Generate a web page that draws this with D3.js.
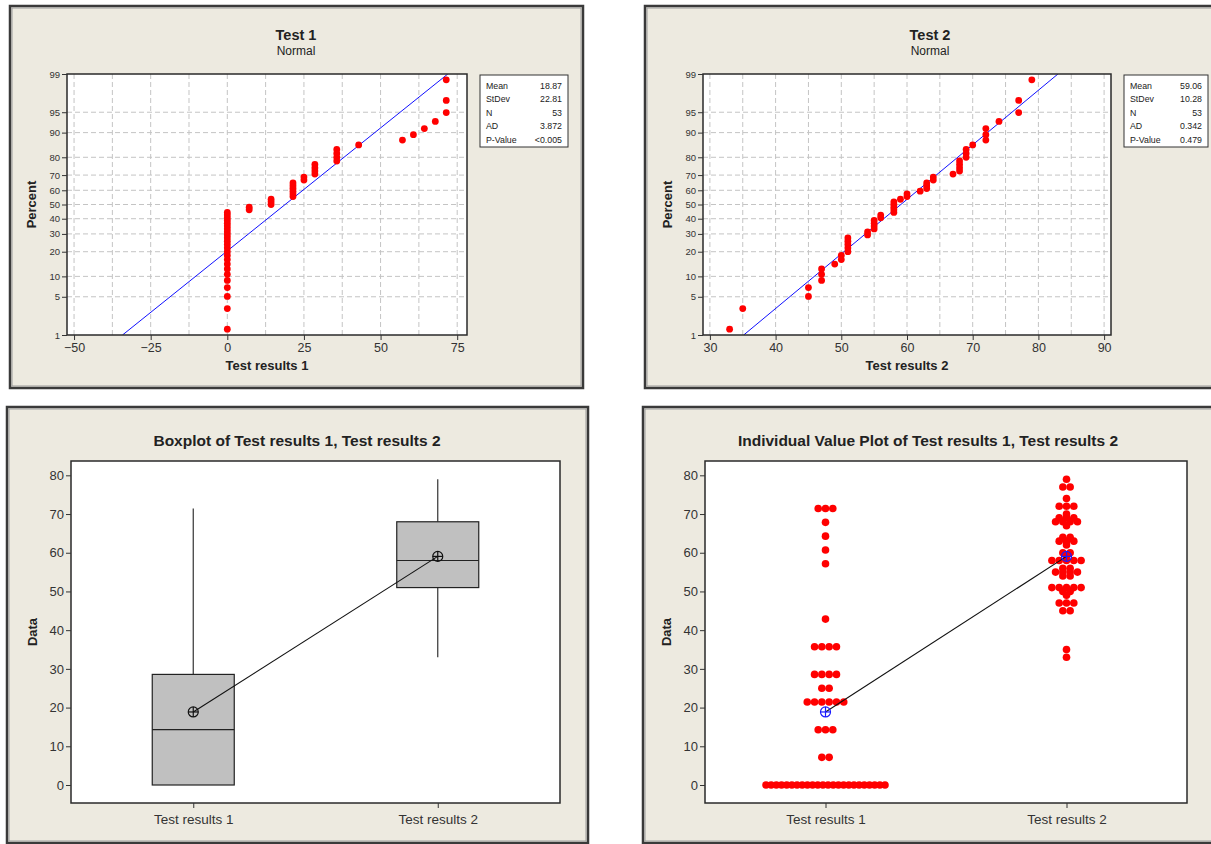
<!DOCTYPE html>
<html><head><meta charset="utf-8">
<script src="https://cdn.jsdelivr.net/npm/d3@7"></script>
<style>
body{margin:0;background:#fff;}
svg{display:block;}
text{font-family:"Liberation Sans",Arial,sans-serif;}
</style>
</head><body>
<svg id="c" width="1211" height="844"></svg>
<script>
// ---------------- DATA ----------------
const categories = ["Test results 1", "Test results 2"];
const test1 = [0,0,0,0,0,0,0,0,0,0,0,0,0,0,0,0,0,0,0,0,0,0,0,0,
  7.143,7.143, 14.286,14.286,14.286, 21.429,21.429,21.429,21.429,21.429,21.429,
  25,25, 28.571,28.571,28.571,28.571, 35.714,35.714,35.714,35.714,
  42.857, 57.143, 60.714, 64.286, 67.857, 71.429,71.429,71.429];
const test2 = [33, 35, 45,45, 47,47,47, 49, 50,50, 51,51,51,51,51, 54,54,
  55,55,55,55, 56,56, 58,58,58,58,58, 59, 60,60, 62, 63,63,63, 64,64, 67,
  68,68,68,68, 69,69,69, 70, 72,72,72, 74, 77,77, 79];
const statLabels = ["Mean", "StDev", "N", "AD", "P-Value"];
const stats1 = ["18.87", "22.81", "53", "3.872", "<0.005"];
const stats2 = ["59.06", "10.28", "53", "0.342", "0.479"];
const fitMean = [18.87, 59.06];
const fitSd = [22.81, 10.28];
const pctTicks = [1, 5, 10, 20, 30, 40, 50, 60, 70, 80, 90, 95, 99];
const xTicks1 = [-50, -25, 0, 25, 50, 75];
const xTicks2 = [30, 40, 50, 60, 70, 80, 90];
const dataTicks = [0, 10, 20, 30, 40, 50, 60, 70, 80];

// ---------------- HELPERS ----------------
function probit(p){
  const a=[-3.969683028665376e+01,2.209460984245205e+02,-2.759285104469687e+02,1.383577518672690e+02,-3.066479806614716e+01,2.506628277459239e+00];
  const b=[-5.447609879822406e+01,1.615858368580409e+02,-1.556989798598866e+02,6.680131188771972e+01,-1.328068155288572e+01];
  const c=[-7.784894002430293e-03,-3.223964580411365e-01,-2.400758277161838e+00,-2.549732539343734e+00,4.374664141464968e+00,2.938163982698783e+00];
  const d=[7.784695709041462e-03,3.224671290700398e-01,2.445134137142996e+00,3.754408661907416e+00];
  const pl=0.02425, ph=1-pl; let q,r;
  if(p<pl){q=Math.sqrt(-2*Math.log(p));return (((((c[0]*q+c[1])*q+c[2])*q+c[3])*q+c[4])*q+c[5])/((((d[0]*q+d[1])*q+d[2])*q+d[3])*q+1);}
  if(p>ph){q=Math.sqrt(-2*Math.log(1-p));return -(((((c[0]*q+c[1])*q+c[2])*q+c[3])*q+c[4])*q+c[5])/((((d[0]*q+d[1])*q+d[2])*q+d[3])*q+1);}
  q=p-0.5;r=q*q;return (((((a[0]*r+a[1])*r+a[2])*r+a[3])*r+a[4])*r+a[5])*q/(((((b[0]*r+b[1])*r+b[2])*r+b[3])*r+b[4])*r+1);
}
function mtbQuantile(sorted, p){
  const n = sorted.length, pos = p*(n+1);
  const lo = Math.floor(pos), fr = pos - lo;
  if (lo < 1) return sorted[0];
  if (lo >= n) return sorted[n-1];
  return sorted[lo-1] + fr*(sorted[lo]-sorted[lo-1]);
}

const svg = d3.select("#c");
const BG = "#EDEAE0", INK = "#222", TICK = "#333";

function frame(x, y, w, h){
  svg.append("rect").attr("x",x).attr("y",y).attr("width",w).attr("height",h)
    .attr("fill",BG).attr("stroke","#3a3a3a").attr("stroke-width",2.5);
  svg.append("rect").attr("x",x+2).attr("y",y+2).attr("width",w-4).attr("height",h-4)
    .attr("fill","none").attr("stroke","#9a9a9a").attr("stroke-width",1);
}
function styleAxis(g, fs){
  g.select(".domain").remove();
  g.selectAll(".tick line").attr("stroke",TICK).attr("stroke-width",1);
  g.selectAll(".tick text").attr("fill",TICK).style("font-size",fs+"px")
   .style("font-family",'"Liberation Sans",Arial,sans-serif');
}

// ---------------- PROBABILITY PLOTS ----------------
function probPanel(o){
  frame(o.fx, o.fy, o.fw, o.fh);
  svg.append("text").attr("x",o.tx).attr("y",40).attr("text-anchor","middle")
    .style("font-size","14.5px").style("font-weight","bold").attr("fill",INK).text(o.title);
  svg.append("text").attr("x",o.tx).attr("y",55).attr("text-anchor","middle")
    .style("font-size","12px").attr("fill",INK).text("Normal");

  const L=o.left, R=o.right, T=74, B=335;
  const x = d3.scaleLinear().domain(o.xdom).range([L,R]);
  const y = d3.scaleLinear().domain([probit(0.01), probit(0.99)]).range([B,T]);
  svg.append("rect").attr("x",L).attr("y",T).attr("width",R-L).attr("height",B-T).attr("fill","#fff");

  const clipId = "clip"+o.id;
  svg.append("clipPath").attr("id",clipId).append("rect")
    .attr("x",L).attr("y",T).attr("width",R-L).attr("height",B-T);

  const grid = svg.append("g").attr("stroke","#c4c4c4").attr("stroke-dasharray","5,3").attr("stroke-width",1);
  grid.selectAll("line.h").data(pctTicks.slice(1,-1)).join("line")
    .attr("x1",L).attr("x2",R).attr("y1",d=>y(probit(d/100))).attr("y2",d=>y(probit(d/100)));
  grid.selectAll("line.v").data(o.vgrid).join("line")
    .attr("y1",T).attr("y2",B).attr("x1",d=>x(d)).attr("x2",d=>x(d));

  // fitted line
  const zLo = probit(0.01), zHi = probit(0.99);
  svg.append("line").attr("clip-path",`url(#${clipId})`)
    .attr("x1",x(o.mean+o.sd*zLo)).attr("y1",y(zLo))
    .attr("x2",x(o.mean+o.sd*zHi)).attr("y2",y(zHi))
    .attr("stroke","#1010ff").attr("stroke-width",1);

  // points
  const s = o.data.slice().sort((a,b)=>a-b), n = s.length;
  svg.append("g").attr("clip-path",`url(#${clipId})`).selectAll("circle").data(s).join("circle")
    .attr("cx",d=>x(d)).attr("cy",(d,i)=>y(probit((i+1-0.3)/(n+0.4))))
    .attr("r",3.4).attr("fill","#ff0000");

  svg.append("rect").attr("x",L).attr("y",T).attr("width",R-L).attr("height",B-T)
    .attr("fill","none").attr("stroke","#2a2a2a").attr("stroke-width",1.5);

  const gy = svg.append("g").attr("transform",`translate(${L},0)`)
    .call(d3.axisLeft(y).tickValues(pctTicks.map(p=>probit(p/100))).tickFormat((d,i)=>pctTicks[i]).tickSize(5).tickPadding(2));
  styleAxis(gy, 9.5);
  const gx = svg.append("g").attr("transform",`translate(0,${B})`)
    .call(d3.axisBottom(x).tickValues(o.xticks).tickFormat(d3.format("d")).tickSize(5).tickPadding(3));
  styleAxis(gx, 12.5);

  svg.append("text").attr("transform",`translate(${L-31},${(T+B)/2}) rotate(-90)`)
    .attr("text-anchor","middle").style("font-size","13px").style("font-weight","bold").attr("fill",INK).text("Percent");
  svg.append("text").attr("x",(L+R)/2).attr("y",370).attr("text-anchor","middle")
    .style("font-size","13px").style("font-weight","bold").attr("fill",INK).text(o.xlabel);

  // stats box
  const bx=o.sx, by=75, bw=o.sw, bh=72;
  svg.append("rect").attr("x",bx).attr("y",by).attr("width",bw).attr("height",bh)
    .attr("fill","#fff").attr("stroke","#333").attr("stroke-width",1);
  const rows = svg.append("g").style("font-size","8.8px").attr("fill",INK);
  statLabels.forEach((lab,i)=>{
    const yy = by + 13.5 + i*13.6;
    rows.append("text").attr("x",bx+6).attr("y",yy).text(lab);
    rows.append("text").attr("x",bx+bw-6).attr("y",yy).attr("text-anchor","end").text(o.stats[i]);
  });
}

probPanel({id:1, fx:10, fy:6, fw:573, fh:382, tx:296, title:"Test 1", left:67, right:467,
  xdom:[-52.3, 78.2], xticks:xTicks1, vgrid:d3.range(-50, 76, 12.5), data:test1,
  mean:fitMean[0], sd:fitSd[0], xlabel:"Test results 1", sx:480, sw:88, stats:stats1});
probPanel({id:2, fx:645, fy:6, fw:590, fh:382, tx:930, title:"Test 2", left:703, right:1111,
  xdom:[28.95, 91.05], xticks:xTicks2, vgrid:d3.range(30, 91, 5), data:test2,
  mean:fitMean[1], sd:fitSd[1], xlabel:"Test results 2", sx:1124, sw:84, stats:stats2});

// ---------------- CATEGORY PANELS ----------------
function catAxes(L, R, T, B, x, y, title, tx){
  svg.append("text").attr("x",tx).attr("y",446).attr("text-anchor","middle")
    .style("font-size","15.5px").style("font-weight","bold").attr("fill",INK).text(title);
  const gy = svg.append("g").attr("transform",`translate(${L},0)`)
    .call(d3.axisLeft(y).tickValues(dataTicks).tickSize(5).tickPadding(2));
  styleAxis(gy, 13);
  const gx = svg.append("g").attr("transform",`translate(0,${B})`)
    .call(d3.axisBottom(x).tickSize(5).tickPadding(6));
  styleAxis(gx, 13.5);
  svg.append("text").attr("transform",`translate(${L-34},${(T+B)/2}) rotate(-90)`)
    .attr("text-anchor","middle").style("font-size","13px").style("font-weight","bold").attr("fill",INK).text("Data");
}
function meanSymbol(g, cx, cy, color){
  g.append("circle").attr("cx",cx).attr("cy",cy).attr("r",5).attr("fill","none").attr("stroke",color).attr("stroke-width",1.2);
  g.append("line").attr("x1",cx-5).attr("x2",cx+5).attr("y1",cy).attr("y2",cy).attr("stroke",color).attr("stroke-width",1.2);
  g.append("line").attr("x1",cx).attr("x2",cx).attr("y1",cy-5).attr("y2",cy+5).attr("stroke",color).attr("stroke-width",1.2);
}
const series = [test1, test2];
const yDom = [-4.65, 83.7];

// Boxplot
(function(){
  frame(7, 407, 581, 436);
  const L=71, R=560, T=461, B=803;
  const x = d3.scalePoint().domain(categories).range([L,R]).padding(0.5);
  const y = d3.scaleLinear().domain(yDom).range([B,T]);
  svg.append("rect").attr("x",L).attr("y",T).attr("width",R-L).attr("height",B-T).attr("fill","#fff")
    .attr("stroke","#2a2a2a").attr("stroke-width",1.5);
  const g = svg.append("g");
  const hw = 41, eps = 0.01;
  categories.forEach((c,i)=>{
    const s = series[i].slice().sort((a,b)=>a-b);
    const q1 = mtbQuantile(s,0.25), med = mtbQuantile(s,0.5), q3 = mtbQuantile(s,0.75);
    const iqr = q3-q1;
    const lo = d3.min(s.filter(v=>v>=q1-1.5*iqr-eps)), hi = d3.max(s.filter(v=>v<=q3+1.5*iqr+eps));
    const cx = x(c);
    g.append("line").attr("x1",cx).attr("x2",cx).attr("y1",y(hi)).attr("y2",y(q3)).attr("stroke","#333").attr("stroke-width",1.2);
    g.append("line").attr("x1",cx).attr("x2",cx).attr("y1",y(q1)).attr("y2",y(lo)).attr("stroke","#333").attr("stroke-width",1.2);
    g.append("rect").attr("x",cx-hw).attr("y",y(q3)).attr("width",2*hw).attr("height",y(q1)-y(q3))
      .attr("fill","#c0c0c0").attr("stroke","#222").attr("stroke-width",1.2);
    g.append("line").attr("x1",cx-hw).attr("x2",cx+hw).attr("y1",y(med)).attr("y2",y(med)).attr("stroke","#222").attr("stroke-width",1.2);
  });
  const means = series.map(s=>d3.mean(s));
  g.append("line").attr("x1",x(categories[0])).attr("y1",y(means[0])).attr("x2",x(categories[1])).attr("y2",y(means[1]))
    .attr("stroke","#111").attr("stroke-width",1.1);
  means.forEach((m,i)=>meanSymbol(g, x(categories[i]), y(m), "#111"));
  catAxes(L,R,T,B,x,y,"Boxplot of Test results 1, Test results 2", 297);
})();

// Individual value plot
(function(){
  frame(643, 407, 600, 436);
  const L=705, R=1187, T=461, B=803;
  const x = d3.scalePoint().domain(categories).range([L,R]).padding(0.5);
  const y = d3.scaleLinear().domain(yDom).range([B,T]);
  svg.append("rect").attr("x",L).attr("y",T).attr("width",R-L).attr("height",B-T).attr("fill","#fff")
    .attr("stroke","#2a2a2a").attr("stroke-width",1.5);
  const g = svg.append("g");
  categories.forEach((c,i)=>{
    const groups = d3.rollups(series[i], v=>v.length, v=>v);
    const pts = [];
    groups.forEach(([v,cnt])=>{
      const sp = cnt>1 ? Math.min(7.3, 119/(cnt-1)) : 0;
      for(let j=0;j<cnt;j++) pts.push({v, off:(j-(cnt-1)/2)*sp});
    });
    g.append("g").selectAll("circle").data(pts).join("circle")
      .attr("cx",d=>x(c)+d.off).attr("cy",d=>y(d.v)).attr("r",3.8).attr("fill","#ff0000");
  });
  const means = series.map(s=>d3.mean(s));
  g.append("line").attr("x1",x(categories[0])).attr("y1",y(means[0])).attr("x2",x(categories[1])).attr("y2",y(means[1]))
    .attr("stroke","#111").attr("stroke-width",1.1);
  means.forEach((m,i)=>meanSymbol(g, x(categories[i]), y(m), "#1a1aff"));
  catAxes(L,R,T,B,x,y,"Individual Value Plot of Test results 1, Test results 2", 928);
})();
</script>
</body></html>
